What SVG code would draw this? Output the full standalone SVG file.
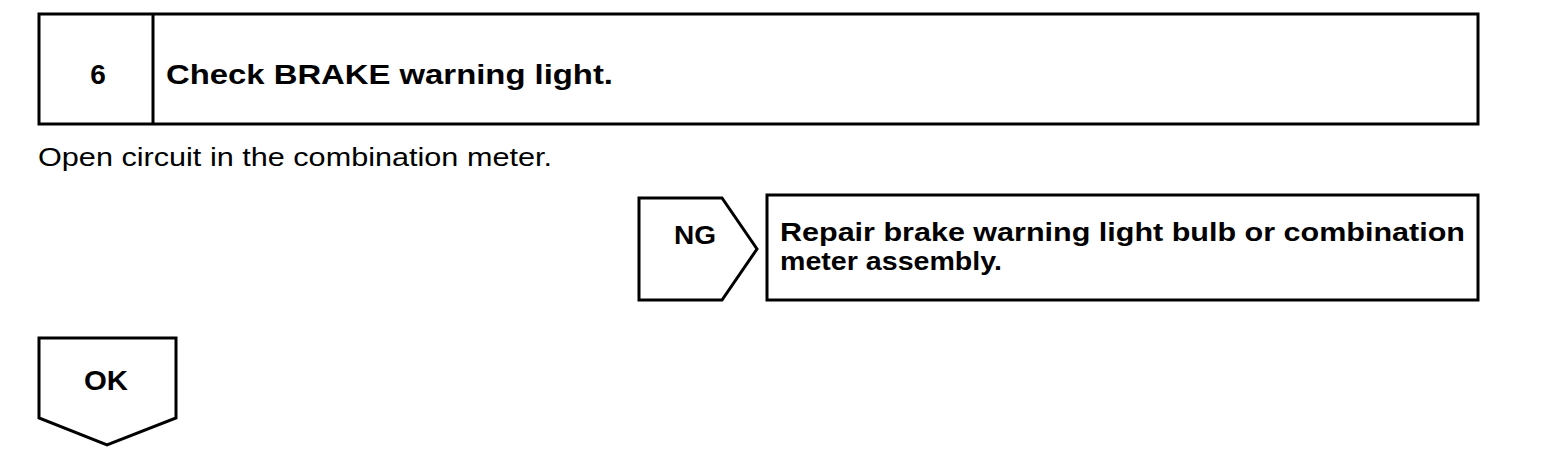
<svg xmlns="http://www.w3.org/2000/svg" width="1568" height="470" viewBox="0 0 1568 470">
<style>
.box{fill:#fff;stroke:#000;stroke-width:3}
.b{font-family:"Liberation Sans",Arial,sans-serif;font-weight:bold;fill:#000}
.r{font-family:"Liberation Sans",Arial,sans-serif;fill:#000}
</style>
<rect width="1568" height="470" fill="#fff"/>
<g id="step6">
<rect class="box" x="39" y="14" width="1439" height="110"/>
<line x1="153" y1="14" x2="153" y2="124" stroke="#000" stroke-width="3"/>
<text class="b" x="98" y="84" font-size="28" text-anchor="middle">6</text>
<text class="b" x="166" y="84" font-size="28" textLength="447" lengthAdjust="spacingAndGlyphs">Check BRAKE warning light.</text>
</g>
<g id="note">
<text class="r" x="38" y="166" font-size="26" textLength="514" lengthAdjust="spacingAndGlyphs">Open circuit in the combination meter.</text>
</g>
<g id="ng">
<polygon class="box" points="639,198 722,198 757,249 722,300 639,300"/>
<text class="b" x="695" y="244" font-size="26" textLength="42" lengthAdjust="spacingAndGlyphs" text-anchor="middle">NG</text>
</g>
<g id="repair">
<rect class="box" x="767" y="195" width="711" height="105"/>
<text class="b" x="780" y="241" font-size="25" textLength="685" lengthAdjust="spacingAndGlyphs">Repair brake warning light bulb or combination</text>
<text class="b" x="780" y="270" font-size="25" textLength="222" lengthAdjust="spacingAndGlyphs">meter assembly.</text>
</g>
<g id="ok">
<polygon class="box" points="39,338 176,338 176,418 107,445 39,418"/>
<text class="b" x="106" y="390" font-size="27" textLength="44" lengthAdjust="spacingAndGlyphs" text-anchor="middle">OK</text>
</g>
<g id="connectors"></g>
</svg>
